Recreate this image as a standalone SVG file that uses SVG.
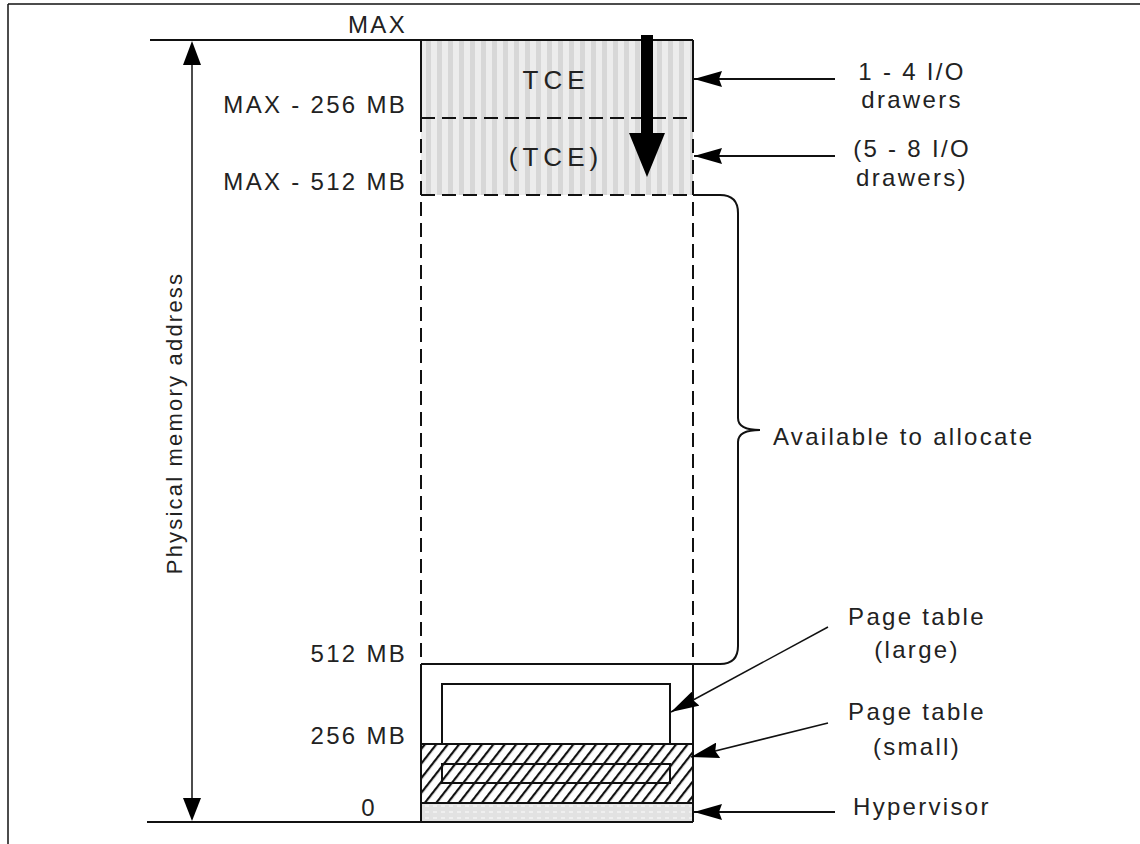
<svg xmlns="http://www.w3.org/2000/svg" width="1140" height="844" viewBox="0 0 1140 844">
<defs>
<pattern id="stripes" x="421" y="0" width="11" height="20" patternUnits="userSpaceOnUse">
<rect width="11" height="20" fill="#ececec"/>
<rect x="5" width="5" height="20" fill="#d7d7d7"/>
</pattern>
<pattern id="hatch" width="9" height="10" patternUnits="userSpaceOnUse" patternTransform="rotate(38)">
<rect width="9" height="10" fill="#fff"/>
<rect x="0" width="2.2" height="10" fill="#111"/>
</pattern>
<pattern id="dots" width="8" height="6" patternUnits="userSpaceOnUse">
<rect width="8" height="6" fill="#e2e2e2"/>
<rect x="1" y="1" width="4" height="2" fill="#efefef"/>
</pattern>
<marker id="ah" viewBox="0 0 28 16" refX="28" refY="8" markerWidth="28" markerHeight="16" markerUnits="userSpaceOnUse" orient="auto">
<path d="M28,8 L0,0 L3,8 L0,16 Z" fill="#000"/>
</marker>
</defs>
<style>
text{font-family:"Liberation Sans",Arial,sans-serif;font-size:24px;fill:#222;letter-spacing:2.3px}
.ln{stroke:#111;stroke-width:2;fill:none}
.th{stroke:#111;stroke-width:1.5;fill:none}
.ds{stroke:#111;stroke-width:2;fill:none;stroke-dasharray:14 7}
.m{text-anchor:middle}
.r{text-anchor:end}
.big{font-size:26px;letter-spacing:5px}
</style>
<g id="frame">
<line x1="8" y1="4" x2="1140" y2="4" class="th"/>
<line x1="8" y1="4" x2="8" y2="844" class="th"/>
</g>
<g id="memory-map">
<rect x="421" y="40" width="272" height="155" fill="url(#stripes)"/>
<rect x="421" y="744" width="272" height="59" fill="url(#hatch)"/>
<rect x="421" y="803" width="272" height="19" fill="url(#dots)"/>
<line x1="150" y1="40" x2="693" y2="40" class="ln"/>
<line x1="147" y1="822" x2="693" y2="822" class="ln"/>
<line x1="421" y1="40" x2="421" y2="118" class="ln"/>
<line x1="693" y1="40" x2="693" y2="118" class="ln"/>
<line x1="421" y1="118" x2="693" y2="118" class="ds"/>
<line x1="421" y1="195" x2="693" y2="195" class="ds"/>
<line x1="421" y1="118" x2="421" y2="664" class="ds"/>
<line x1="693" y1="118" x2="693" y2="664" class="ds"/>
<line x1="421" y1="664" x2="693" y2="664" class="ln"/>
<line x1="421" y1="664" x2="421" y2="822" class="ln"/>
<line x1="693" y1="664" x2="693" y2="822" class="ln"/>
<line x1="421" y1="744" x2="693" y2="744" class="ln"/>
<line x1="421" y1="803" x2="693" y2="803" class="ln"/>
<rect x="442" y="684" width="228" height="60" fill="#fff" class="ln"/>
<rect x="442" y="764" width="228" height="19" fill="#fff" class="ln"/>
</g>
<g id="tce">
<text x="556" y="89" class="m big">TCE</text>
</g>
<g id="tce2">
<text x="556" y="166" class="m big">(TCE)</text>
</g>
<g id="down-arrow">
<rect x="641" y="35" width="12" height="100" fill="#000"/>
<path d="M629,133 L665,133 L647,177 Z" fill="#000"/>
</g>
<g id="left-labels">
<text x="407" y="33" class="r">MAX</text>
<text x="407" y="113" class="r">MAX - 256 MB</text>
<text x="407" y="190" class="r">MAX - 512 MB</text>
<text x="407" y="662" class="r">512 MB</text>
<text x="407" y="744" class="r">256 MB</text>
<text x="369" y="816" class="m">0</text>
</g>
<g id="axis">
<line x1="192" y1="62" x2="192" y2="800" class="th"/>
<path d="M192,41 L201,65 L183,65 Z" fill="#000"/>
<path d="M192,821 L201,798 L183,798 Z" fill="#000"/>
<text transform="translate(182,423) rotate(-90)" class="m" style="font-size:22px;letter-spacing:2.2px">Physical memory address</text>
</g>
<g id="connectors">
<line x1="835" y1="79" x2="694" y2="79" class="ln" marker-end="url(#ah)"/>
<line x1="835" y1="156" x2="694" y2="156" class="ln" marker-end="url(#ah)"/>
<line x1="835" y1="812" x2="694" y2="812" class="ln" marker-end="url(#ah)"/>
<line x1="828" y1="627" x2="671" y2="712" class="th" marker-end="url(#ah)"/>
<line x1="828" y1="723" x2="691" y2="757" class="th" marker-end="url(#ah)"/>
<path d="M693,195 H720 Q738,195 738,213 V418 Q738,430 760,430 Q738,430 738,442 V646 Q738,664 720,664 H693" class="ln"/>
</g>
<g id="right-labels">
<text x="912" y="80" class="m">1 - 4 I/O</text>
<text x="912" y="108" class="m">drawers</text>
<text x="912" y="157" class="m">(5 - 8 I/O</text>
<text x="912" y="186" class="m">drawers)</text>
<text x="773" y="445">Available to allocate</text>
<text x="917" y="625" class="m">Page table</text>
<text x="917" y="658" class="m">(large)</text>
<text x="917" y="720" class="m">Page table</text>
<text x="917" y="755" class="m">(small)</text>
<text x="853" y="815">Hypervisor</text>
</g>
</svg>
